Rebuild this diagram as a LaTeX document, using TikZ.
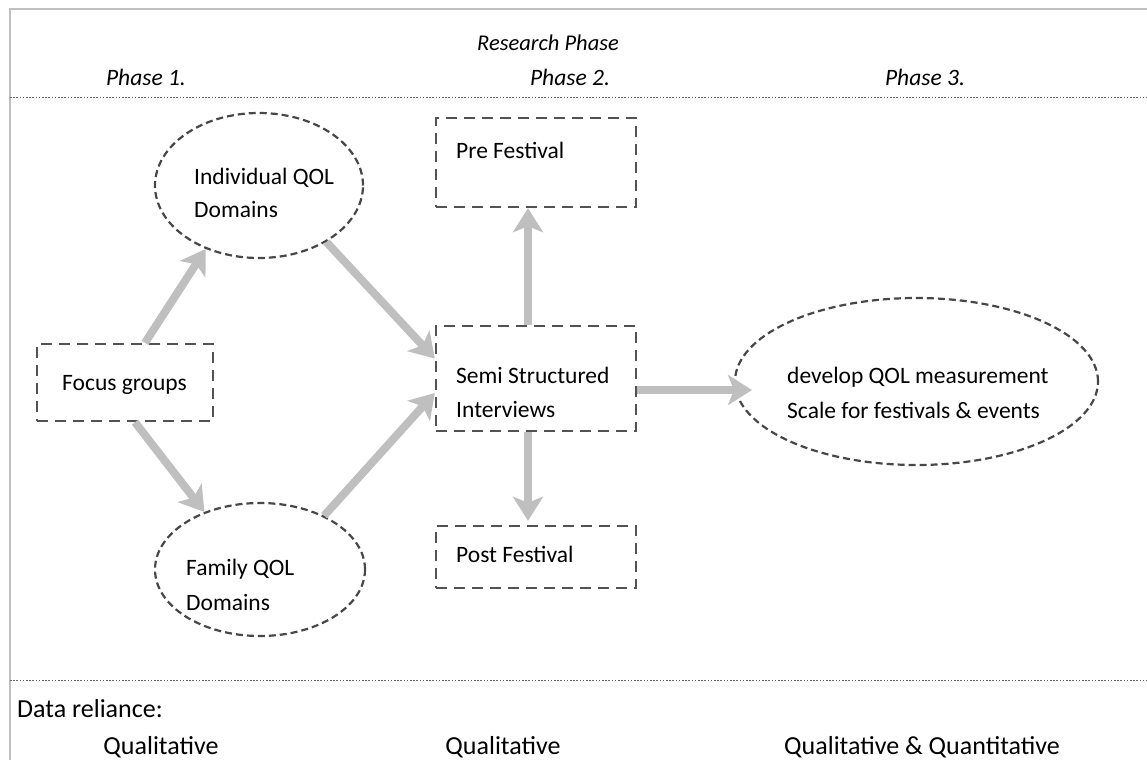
\documentclass[tikz,border=0pt]{standalone}
\usepackage{fontspec}
\setmainfont{Carlito}
\usetikzlibrary{arrows.meta,shapes.geometric}
\begin{document}
\begin{tikzpicture}[x=1pt,y=-1pt,
  txt/.style={inner sep=0pt,anchor=base west,font=\fontsize{23.5}{28}\selectfont},
  btxt/.style={inner sep=0pt,anchor=base west,font=\fontsize{26}{30}\selectfont},
  bctxt/.style={inner sep=0pt,anchor=base,font=\fontsize{26}{30}\selectfont},
  itxt/.style={inner sep=0pt,anchor=base,font=\fontsize{23.5}{28}\selectfont\itshape},
  dbox/.style={draw=black!68,line width=2.4pt,dash pattern=on 11pt off 7pt,rectangle,inner sep=0pt},
  dell/.style={draw=black!72,line width=2.2pt,dash pattern=on 7pt off 4pt,ellipse,inner sep=0pt},
  sep/.style={draw=black!60,line width=1pt,dash pattern=on 1.6pt off 1.6pt},
  frame/.style={draw=black!25,line width=1.5pt},
  arr/.style={draw=black!25,line width=8pt,-{Stealth[length=24pt,width=30pt,inset=6pt]}}]
\useasboundingbox (0,0) rectangle (1147,760);
% frame and separators
\coordinate (fl) at (10,760);
\coordinate (ft) at (10,9);
\coordinate (fr) at (1147,9);
\draw[frame] (fl) -- (ft) -- (fr);
\coordinate (s1a) at (10,97);  \coordinate (s1b) at (1147,97);
\coordinate (s2a) at (10,680); \coordinate (s2b) at (1147,680);
\draw[sep] (s1a) -- (s1b);
\draw[sep] (s2a) -- (s2b);
% headings
\node[itxt,font=\fontsize{22.5}{27}\selectfont\itshape] (rp) at (548,50) {Research Phase};
\node[itxt] (p1) at (146,85) {Phase 1.};
\node[itxt] (p2) at (570,85) {Phase 2.};
\node[itxt] (p3) at (925,85) {Phase 3.};
% shapes
\node[dell,minimum width=208pt,minimum height=145pt] (ind) at (259,185.5) {};
\node[dell,minimum width=210pt,minimum height=133pt] (fam) at (260,569.5) {};
\node[dell,minimum width=363pt,minimum height=167pt] (dev) at (916.5,381.5) {};
\node[dbox,minimum width=176pt,minimum height=77pt] (focus) at (125,382.5) {};
\node[dbox,minimum width=200pt,minimum height=89pt] (pre) at (536,162.5) {};
\node[dbox,minimum width=200pt,minimum height=105pt] (semi) at (536,378.5) {};
\node[dbox,minimum width=200pt,minimum height=62pt] (post) at (536,557) {};
% texts
\node[txt] (indA) at (194,184) {Individual QOL};
\node[txt] (indB) at (194,217) {Domains};
\node[txt] (famA) at (186,575) {Family QOL};
\node[txt] (famB) at (186,610) {Domains};
\node[txt] (focusT) at (62,390) {Focus groups};
\node[txt] (preT) at (456,158) {Pre Festival};
\node[txt] (semiA) at (456,383) {Semi Structured};
\node[txt] (semiB) at (456,417) {Interviews};
\node[txt] (postT) at (456,562) {Post Festival};
\node[txt] (devA) at (787,383) {develop QOL measurement};
\node[txt] (devB) at (787,418) {Scale for festivals \& events};
% data reliance
\node[btxt] (dr) at (17,717) {Data reliance:};
\node[bctxt] (q1) at (161,754) {Qualitative};
\node[bctxt] (q2) at (503,754) {Qualitative};
\node[bctxt] (q3) at (922,754) {Qualitative \& Quantitative};
% arrows
\draw[arr] ([xshift=20pt]focus.north) -- (ind.230);
\draw[arr] ([xshift=10pt]focus.south) -- (fam.134);
\draw[arr] (ind.320) -- ([yshift=20pt]semi.west);
\draw[arr] (fam.40) -- ([yshift=-14.5pt]semi.west);
\draw[arr] ([xshift=-8pt]semi.north) -- ([xshift=-8pt]pre.south);
\draw[arr] ([xshift=-8pt]semi.south) -- ([xshift=-8pt,yshift=4pt]post.north);
\coordinate (devtip) at (752,390);
\draw[arr] ([yshift=-11.5pt]semi.east) -- (devtip);
\end{tikzpicture}
\end{document}
